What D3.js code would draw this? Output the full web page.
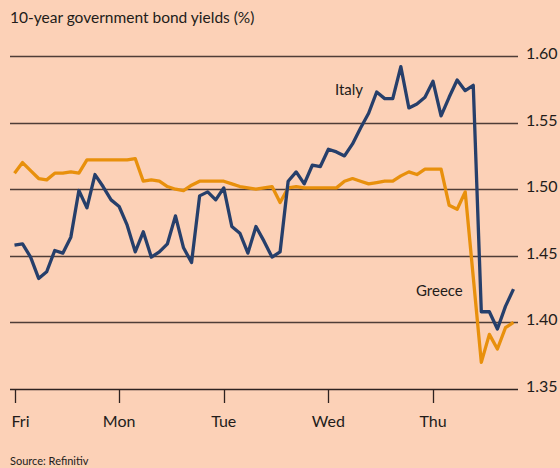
<!DOCTYPE html>
<html><head><meta charset="utf-8">
<script src="https://cdn.jsdelivr.net/npm/d3@7"></script>
<style>
html,body{margin:0;padding:0;background:#fcd1b7;}
svg{display:block;}
text{font-family:Lato,"Open Sans",sans-serif;fill:#221c1a;}
</style></head><body>
<svg id="chart" width="560" height="468"></svg>
<script>
const title = "10-year government bond yields (%)";
const source = "Source: Refinitiv";
const dayLabels = ["Fri", "Mon", "Tue", "Wed", "Thu"];
const dayIndex = [0, 13, 26, 39, 52];
const yTicks = [1.35, 1.40, 1.45, 1.50, 1.55, 1.60];
const seriesNames = ["Italy", "Greece"];

const italy = [1.458,1.459,1.449,1.433,1.438,1.454,1.452,1.464,1.499,1.486,
  1.511,1.502,1.492,1.487,1.473,1.453,1.468,1.449,1.453,1.459,
  1.480,1.456,1.445,1.495,1.498,1.492,1.501,1.472,1.467,1.452,
  1.472,1.461,1.449,1.453,1.506,1.513,1.504,1.518,1.517,1.530,
  1.528,1.525,1.534,1.546,1.557,1.573,1.568,1.568,1.592,1.561,
  1.564,1.569,1.581,1.555,1.569,1.582,1.574,1.578,1.408,1.408,
  1.395,1.412,1.425];

const greece = [1.512,1.520,1.514,1.508,1.507,1.512,1.512,1.513,1.512,1.522,
  1.522,1.522,1.522,1.522,1.522,1.523,1.506,1.507,1.506,1.502,
  1.500,1.499,1.503,1.506,1.506,1.506,1.506,1.504,1.502,1.501,
  1.500,1.501,1.502,1.490,1.501,1.502,1.501,1.501,1.501,1.501,
  1.501,1.506,1.508,1.506,1.504,1.505,1.506,1.506,1.510,1.513,
  1.511,1.515,1.515,1.515,1.488,1.485,1.498,1.434,1.370,1.391,
  1.380,1.396,1.400];

const svg = d3.select("#chart");
const W = 560, H = 468;
svg.append("rect").attr("width", W).attr("height", H).attr("fill", "#fcd1b7");

const x = d3.scaleLinear().domain([0, italy.length - 1]).range([14.5, 513.5]);
const y = d3.scaleLinear().domain([1.35, 1.60]).range([389, 56]);
const gridX0 = 10, gridX1 = 518;

// title
svg.append("text").attr("x", 10).attr("y", 23)
  .style("font-size", "15.5px").text(title);

// gridlines
svg.append("g").selectAll("line").data(yTicks).join("line")
  .attr("x1", gridX0).attr("x2", gridX1)
  .attr("y1", d => Math.round(y(d)) + 0.5).attr("y2", d => Math.round(y(d)) + 0.5)
  .attr("stroke", d => d === 1.35 ? "#2e2220" : "#4e3d37")
  .attr("stroke-width", 1.3);

// right axis labels
svg.append("g").selectAll("text").data(yTicks).join("text")
  .attr("x", 526).attr("y", d => y(d) - 1)
  .attr("dominant-baseline", "middle")
  .style("font-size", "16px")
  .text(d3.format(".2f"));

// x ticks
const xt = svg.append("g");
xt.selectAll("line").data(dayIndex).join("line")
  .attr("x1", d => Math.round(x(d)) + 0.5).attr("x2", d => Math.round(x(d)) + 0.5)
  .attr("y1", y(1.35)).attr("y2", y(1.35) + 14)
  .attr("stroke", "#2e2220").attr("stroke-width", 1.3);
xt.selectAll("text").data(dayIndex).join("text")
  .attr("x", (d, i) => i === 0 ? x(d) - 3 : x(d))
  .attr("y", 427)
  .attr("text-anchor", (d, i) => i === 0 ? "start" : "middle")
  .style("font-size", "16px")
  .text((d, i) => dayLabels[i]);

// lines
const line = d3.line().x((d, i) => x(i)).y(d => y(d));
svg.append("path").datum(greece).attr("d", line)
  .attr("fill", "none").attr("stroke", "#e8900c").attr("stroke-width", 3.3)
  .attr("stroke-linejoin", "round");
svg.append("path").datum(italy).attr("d", line)
  .attr("fill", "none").attr("stroke", "#263f6b").attr("stroke-width", 3.3)
  .attr("stroke-linejoin", "round");

// series labels
svg.append("text").attr("x", 335).attr("y", 95).style("font-size", "15px").text(seriesNames[0]);
svg.append("text").attr("x", 416).attr("y", 296).style("font-size", "15px").text(seriesNames[1]);

// source
svg.append("text").attr("x", 10).attr("y", 465).style("font-size", "11px").text(source);
</script>
</body></html>
